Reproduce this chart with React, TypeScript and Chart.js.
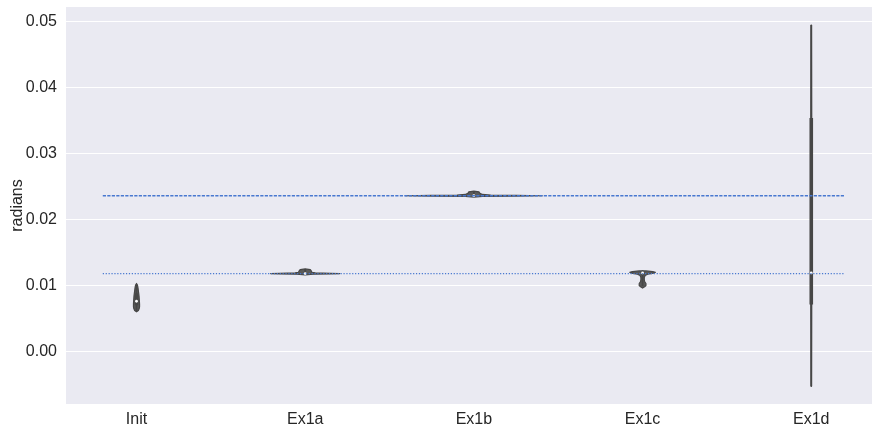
import React, { useEffect, useRef } from 'react';
import { Chart, registerables } from 'chart.js';

Chart.register(...registerables);

// ---------- data ----------
const categories = ['Init', 'Ex1a', 'Ex1b', 'Ex1c', 'Ex1d'];
const yTickValues = [0, 0.01, 0.02, 0.03, 0.04, 0.05];
const yTickLabels = ['0.00', '0.01', '0.02', '0.03', '0.04', '0.05'];
const yTitle = 'radians';

const dashedLevel = 0.0236;
const dottedLevel = 0.0118;
const refLineFrom = -0.2;
const refLineTo = 4.2;

// violin outlines: value (y) and half-width in category units
const initY = [0.0103, 0.01, 0.0096, 0.0092, 0.0088, 0.0084, 0.008, 0.0076, 0.0072, 0.0068, 0.0065, 0.0062, 0.006];
const initW = [0, 0.006, 0.009, 0.011, 0.013, 0.015, 0.016, 0.017, 0.018, 0.018, 0.016, 0.011, 0];
const ex1aY = [0.0125, 0.0124, 0.0122, 0.012, 0.0119, 0.01185, 0.0118, 0.01175, 0.0117, 0.0116];
const ex1aW = [0, 0.03, 0.036, 0.04, 0.06, 0.15, 0.205, 0.15, 0.05, 0];
const ex1bY = [0.0243, 0.0242, 0.024, 0.0238, 0.0237, 0.02365, 0.0236, 0.02355, 0.0235, 0.0234];
const ex1bW = [0, 0.03, 0.034, 0.05, 0.1, 0.25, 0.405, 0.25, 0.05, 0];
const ex1cY = [0.0122, 0.0121, 0.012, 0.0119, 0.0118, 0.0117, 0.0115, 0.0112, 0.0109, 0.0106, 0.0103, 0.01, 0.0098, 0.0096];
const ex1cW = [0.02, 0.06, 0.076, 0.07, 0.05, 0.03, 0.015, 0.01, 0.01, 0.012, 0.02, 0.02, 0.012, 0];
const ex1dY = [0.0495, 0.0354, 0.0119, 0.0071, -0.0053];
const ex1dW = [0.001, 0.002, 0.002, 0.002, 0.001];

// inner box statistics per category
const boxMin = [0.0061, 0.0116, 0.0234, 0.0099, -0.0053];
const boxQ1 = [0.007, 0.0118, 0.0236, 0.0117, 0.0071];
const boxMedian = [0.0076, 0.0118, 0.0236, 0.0119, 0.0119];
const boxQ3 = [0.0088, 0.0119, 0.0237, 0.012, 0.0354];
const boxMax = [0.0102, 0.0125, 0.0242, 0.0123, 0.0495];

const violinYs = [initY, ex1aY, ex1bY, ex1cY, ex1dY];
const violinWs = [initW, ex1aW, ex1bW, ex1cW, ex1dW];

const FONT = "'Liberation Sans', Arial, Helvetica, sans-serif";
const TEXT = '#262626';
const REF_BLUE = '#4878d0';

const bgPlugin = {
  id: 'plotBg',
  beforeDraw(chart: any) {
    const { ctx, chartArea } = chart;
    ctx.save();
    ctx.fillStyle = '#eaeaf2';
    ctx.fillRect(chartArea.left, chartArea.top, chartArea.right - chartArea.left, chartArea.bottom - chartArea.top);
    ctx.restore();
  },
};

const violinPlugin = {
  id: 'violins',
  beforeDatasetsDraw(chart: any) {
    const { ctx, chartArea } = chart;
    const xs = chart.scales.x;
    const ys = chart.scales.y;
    ctx.save();
    ctx.beginPath();
    ctx.rect(chartArea.left, chartArea.top, chartArea.right - chartArea.left, chartArea.bottom - chartArea.top);
    ctx.clip();
    categories.forEach((_, i) => {
      const vy = violinYs[i];
      const vw = violinWs[i];
      ctx.beginPath();
      vy.forEach((val, k) => {
        const px = xs.getPixelForValue(i + vw[k]);
        const py = ys.getPixelForValue(val);
        if (k === 0) ctx.moveTo(px, py);
        else ctx.lineTo(px, py);
      });
      for (let k = vy.length - 1; k >= 0; k--) {
        ctx.lineTo(xs.getPixelForValue(i - vw[k]), ys.getPixelForValue(vy[k]));
      }
      ctx.closePath();
      ctx.fillStyle = '#5a5a5a';
      ctx.fill();
      ctx.lineWidth = 1.2;
      ctx.strokeStyle = '#474747';
      ctx.lineJoin = 'round';
      ctx.stroke();

      const cx = xs.getPixelForValue(i);
      // whisker
      ctx.beginPath();
      ctx.strokeStyle = '#474747';
      ctx.lineWidth = 1.8;
      ctx.moveTo(cx, ys.getPixelForValue(boxMax[i]));
      ctx.lineTo(cx, ys.getPixelForValue(boxMin[i]));
      ctx.stroke();
      // box
      ctx.beginPath();
      ctx.lineWidth = 3.6;
      ctx.moveTo(cx, ys.getPixelForValue(boxQ3[i]));
      ctx.lineTo(cx, ys.getPixelForValue(boxQ1[i]));
      ctx.stroke();
      // median
      ctx.beginPath();
      ctx.fillStyle = '#ffffff';
      ctx.arc(cx, ys.getPixelForValue(boxMedian[i]), 1.4, 0, Math.PI * 2);
      ctx.fill();
    });
    ctx.restore();
  },
};

export default function App() {
  const ref = useRef<HTMLCanvasElement | null>(null);

  useEffect(() => {
    if (!ref.current) return;
    const chart = new Chart(ref.current, {
      type: 'scatter',
      data: {
        datasets: [
          {
            data: [
              { x: refLineFrom, y: dashedLevel },
              { x: refLineTo, y: dashedLevel },
            ],
            showLine: true,
            borderColor: REF_BLUE,
            borderWidth: 1.3,
            borderDash: [3.2, 1.3],
            pointRadius: 0,
          },
          {
            data: [
              { x: refLineFrom, y: dottedLevel },
              { x: refLineTo, y: dottedLevel },
            ],
            showLine: true,
            borderColor: REF_BLUE,
            borderWidth: 1.3,
            borderDash: [1.2, 1.7],
            pointRadius: 0,
          },
        ],
      },
      options: {
        responsive: false,
        animation: false,
        layout: { padding: { top: 7, right: 0, left: 0, bottom: 0 } },
        plugins: { legend: { display: false }, tooltip: { enabled: false } },
        scales: {
          x: {
            type: 'linear',
            min: -0.418,
            max: 4.36,
            afterBuildTicks: (s: any) => {
              s.ticks = categories.map((_, i) => ({ value: i }));
            },
            afterFit: (s: any) => {
              s.height = 26;
              s.paddingLeft = 0;
              s.paddingRight = 0;
            },
            grid: { display: false },
            border: { display: false },
            ticks: {
              padding: -2,
              color: TEXT,
              font: { family: FONT, size: 16 },
              autoSkip: false,
              maxRotation: 0,
              callback: (v: any) => categories[Math.round(Number(v))] ?? '',
            },
          },
          y: {
            type: 'linear',
            min: -0.00798,
            max: 0.05223,
            afterBuildTicks: (s: any) => {
              s.ticks = yTickValues.map((v) => ({ value: v }));
            },
            afterFit: (s: any) => {
              s.width = 66;
              s.paddingTop = 0;
              s.paddingBottom = 0;
            },
            grid: { color: '#ffffff', lineWidth: 1, drawTicks: false },
            border: { display: false },
            ticks: {
              padding: 9,
              color: TEXT,
              font: { family: FONT, size: 16 },
              callback: (_v: any, idx: number) => yTickLabels[idx],
            },
            title: {
              display: true,
              text: yTitle,
              color: TEXT,
              font: { family: FONT, size: 16 },
              padding: { top: 8, bottom: 0 },
            },
          },
        },
      },
      plugins: [bgPlugin, violinPlugin],
    } as any);
    return () => chart.destroy();
  }, []);

  return (
    <div style={{ position: 'absolute', left: 0, top: 0, width: 872, height: 430, background: '#ffffff' }}>
      <canvas ref={ref} width={872} height={430} />
    </div>
  );
}
